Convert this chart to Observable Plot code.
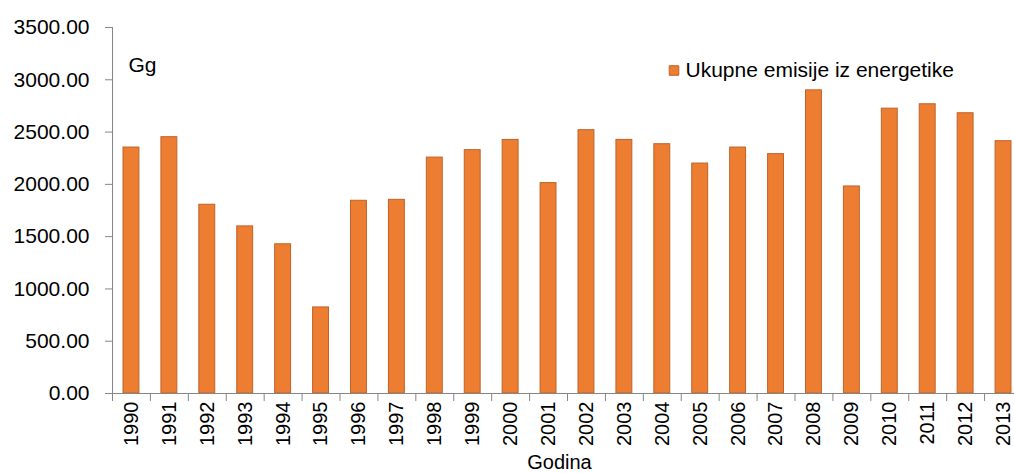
<!DOCTYPE html>
<html>
<head>
<meta charset="utf-8">
<script src="https://cdn.jsdelivr.net/npm/d3@7"></script>
<script src="https://cdn.jsdelivr.net/npm/@observablehq/plot@0.6"></script>
<style>
  html, body { margin: 0; padding: 0; background: white; overflow: hidden; }
</style>
</head>
<body>
<div id="chart"></div>
<script>
const years = ["1990","1991","1992","1993","1994","1995","1996","1997","1998","1999","2000","2001",
               "2002","2003","2004","2005","2006","2007","2008","2009","2010","2011","2012","2013"];
const values = [2352, 2451, 1805, 1598, 1427, 823, 1843, 1852, 2256, 2327, 2425, 2012,
                2518, 2425, 2384, 2199, 2352, 2289, 2899, 1980, 2724, 2766, 2680, 2413];
const yTicks = [0, 500, 1000, 1500, 2000, 2500, 3000, 3500];
const seriesName = "Ukupne emisije iz energetike";
const unitLabel = "Gg";
const xTitle = "Godina";

const data = years.map((year, i) => ({year, value: values[i]}));

const W = 1014, H = 473;
const mL = 112, mR = -8, mT = 27, mB = 80;
const bw = (W - mR - mL) / years.length;

const chart = Plot.plot({
  width: W,
  height: H,
  marginLeft: mL,
  marginRight: mR,
  marginTop: mT,
  marginBottom: mB,
  style: {fontFamily: "'Liberation Sans', Arial, sans-serif", fontSize: "21px", color: "black", background: "white"},
  x: {domain: years, padding: 0, round: false, label: null, axis: null},
  y: {domain: [0, 3500], label: null, axis: null},
  marks: [
    Plot.barY(data, {x: "year", y: "value", fill: "#ED7D31", stroke: "#C0622A", strokeWidth: 1,
                     insetLeft: 11, insetRight: 11}),
    Plot.ruleY([0], {stroke: "#868686"}),
    Plot.ruleX([years[0]], {x: d => d, y1: 0, y2: 3500, dx: -bw / 2, stroke: "#868686"}),
    Plot.axisY({ticks: yTicks, tickFormat: d3.format(".2f"), tickSize: 7, tickPadding: 16,
                stroke: "#868686", fill: "black", label: null}),
    Plot.axisX({tickSize: 8, tickFormat: () => "", dx: -bw / 2, stroke: "#868686", label: null}),
    Plot.axisX({tickSize: 0, tickPadding: 8, tickRotate: -90, fill: "black", label: null, fontSize: 20}),
    Plot.text([xTitle], {text: d => d, frameAnchor: "bottom", lineAnchor: "middle", dy: 69, dx: -8, fontSize: 20}),
    Plot.text([unitLabel], {text: d => d, frameAnchor: "top-left", lineAnchor: "middle", dx: 16, dy: 38, textAnchor: "start"}),
    Plot.dot([0], {frameAnchor: "top-left", dx: 561.5, dy: 43, symbol: "square", r: 5.4,
                   fill: "#ED7D31", stroke: "#C0622A", strokeWidth: 1}),
    Plot.text([seriesName], {text: d => d, frameAnchor: "top-left", lineAnchor: "middle", dx: 573, dy: 43, textAnchor: "start"})
  ]
});
document.getElementById("chart").append(chart);
</script>
</body>
</html>
